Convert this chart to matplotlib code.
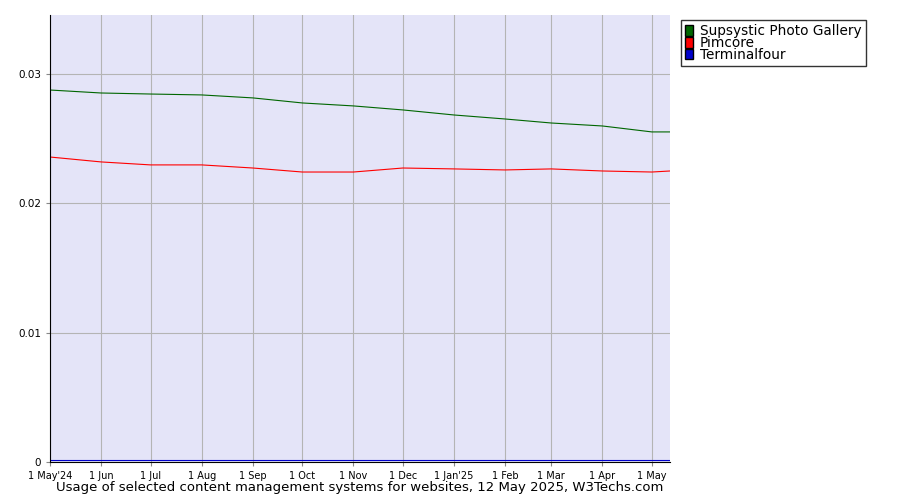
import datetime as dt
import matplotlib
matplotlib.use("Agg")
import matplotlib.pyplot as plt
from matplotlib.patches import Patch

dates = [dt.date(2024, m, 1) for m in range(5, 13)] + [dt.date(2025, m, 1) for m in range(1, 6)] + [dt.date(2025, 5, 12)]
supsystic = [0.02876, 0.02853, 0.02845, 0.02838, 0.02815, 0.02776, 0.02753, 0.02722,
             0.02683, 0.02652, 0.02621, 0.02598, 0.02552, 0.02552]
pimcore = [0.02358, 0.0232, 0.02297, 0.02297, 0.02273, 0.02242, 0.02242, 0.02273,
           0.02266, 0.02258, 0.02266, 0.0225, 0.02242, 0.0225]
terminalfour = [0.00012] * 14
tick_labels = ["1 May'24", "1 Jun", "1 Jul", "1 Aug", "1 Sep", "1 Oct", "1 Nov", "1 Dec",
               "1 Jan'25", "1 Feb", "1 Mar", "1 Apr", "1 May"]

fig = plt.figure(figsize=(9, 5), dpi=100)
ax = fig.add_axes([50 / 900, 38 / 500, 620 / 900, 447 / 500])
ax.set_facecolor("#e4e4f8")
ax.plot(dates, supsystic, color="#006600", lw=0.8)
ax.plot(dates, pimcore, color="#ff0000", lw=0.8)
ax.plot(dates, terminalfour, color="#0000cc", lw=0.8)

ax.set_xlim(dates[0], dates[-1])
ax.set_ylim(0, 0.03456)
ax.set_xticks(dates[:13])
ax.set_xticklabels(tick_labels, fontsize=7)
ax.set_yticks([0, 0.01, 0.02, 0.03])
ax.set_yticklabels(["0", "0.01", "0.02", "0.03"], fontsize=7.5)
ax.grid(True, color="#b4b4b4", lw=0.8)
ax.tick_params(length=3, color="#888888")
for s in ["top", "right"]:
    ax.spines[s].set_visible(False)

handles = [Patch(facecolor="#006600", edgecolor="black", label="Supsystic Photo Gallery"),
           Patch(facecolor="#ff0000", edgecolor="black", label="Pimcore"),
           Patch(facecolor="#0000cc", edgecolor="black", label="Terminalfour")]
fig.legend(handles=handles, loc="upper left", bbox_to_anchor=(681 / 900, 1 - 20 / 500),
           fontsize=9.8, frameon=True, fancybox=False, edgecolor="black",
           handlelength=0.6, handleheight=0.8, handletextpad=0.5,
           labelspacing=-0.15, borderpad=0.3, borderaxespad=0)

fig.text(360 / 900, 1 - 488 / 500, "Usage of selected content management systems for websites, 12 May 2025, W3Techs.com",
         ha="center", va="center", fontsize=9.5)
fig.savefig("out.png", dpi=100)
